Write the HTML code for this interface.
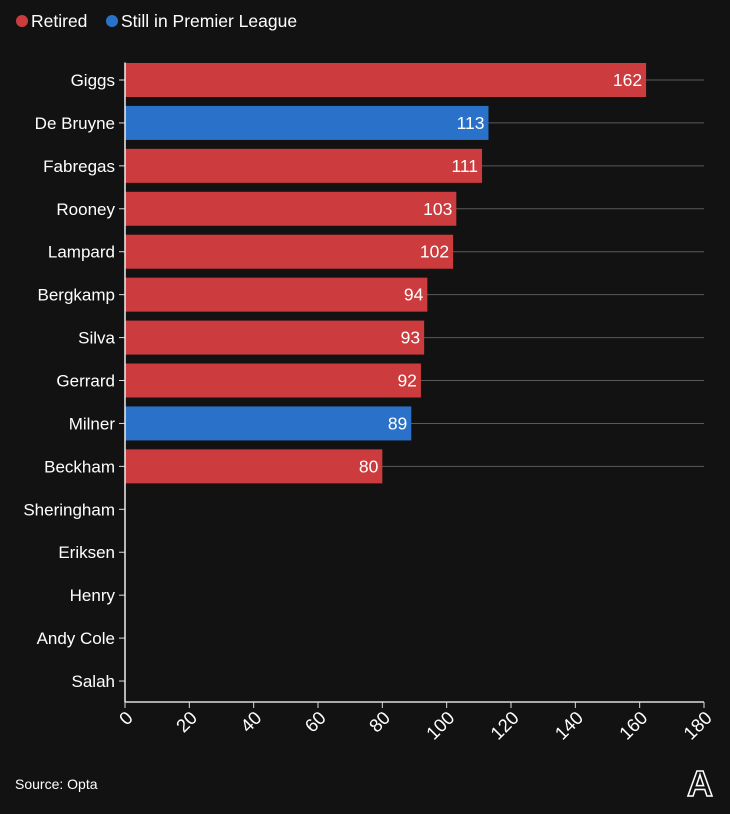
<!DOCTYPE html>
<html><head><meta charset="utf-8">
<style>
html,body{margin:0;padding:0;background:#121212;}
body{width:730px;height:809px;overflow:hidden;font-family:"Liberation Sans",sans-serif;}
svg text{font-family:"Liberation Sans",sans-serif;}
</style></head>
<body>
<svg id="chart" width="730" height="809" viewBox="0 0 730 809" xmlns="http://www.w3.org/2000/svg">
  <g>
    <circle cx="22" cy="21" r="6" fill="#cc3b3d"/>
    <text x="31" y="27" fill="#fff" font-size="17.5">Retired</text>
    <circle cx="112" cy="21" r="6" fill="#2a72c9"/>
    <text x="121" y="27" fill="#fff" font-size="17.5">Still in Premier League</text>
  </g>
  <g id="grid"></g>
  <g id="bars"></g>
  <g id="yaxis"></g>
  <g id="xaxis"></g>
  <text x="15" y="789" fill="#fff" font-size="14">Source: Opta</text>
  <text x="700" y="796" fill="#121212" stroke="#fff" stroke-width="1.5" font-size="36" font-family="Liberation Serif" text-anchor="middle" font-weight="bold">A</text>
</svg>
<script>
const players = ["Giggs","De Bruyne","Fabregas","Rooney","Lampard","Bergkamp","Silva","Gerrard","Milner","Beckham","Sheringham","Eriksen","Henry","Andy Cole","Salah"];
const values = [162,113,111,103,102,94,93,92,89,80,null,null,null,null,null];
const status = ["retired","active","retired","retired","retired","retired","retired","retired","active","retired","retired","active","retired","retired","active"];
const xTicks = [0,20,40,60,80,100,120,140,160,180];

const NS="http://www.w3.org/2000/svg";
const x0=125,x1=704,xMax=180,yTop=80,step=42.93,barH=34,axisY=702;
const xs=v=>x0+(v/xMax)*(x1-x0);
const ys=i=>yTop+i*step;
const colors={retired:"#cc3b3d",active:"#2a72c9"};
function mk(tag,attrs,parent){const e=document.createElementNS(NS,tag);for(const k in attrs)e.setAttribute(k,attrs[k]);parent.appendChild(e);return e;}
const grid=document.getElementById('grid'),bars=document.getElementById('bars'),ya=document.getElementById('yaxis'),xa=document.getElementById('xaxis');
players.forEach((p,i)=>{
  const y=ys(i);
  const v=values[i];
  if(v!=null){
    const g=mk('line',{x1:x0,x2:x1,y1:y,y2:y,stroke:"#5a5a5a","stroke-width":1},grid);
    
    
    const r=mk('rect',{x:x0,y:y-barH/2,width:xs(v)-x0,height:barH,fill:colors[status[i]]},bars);
    
    
    const t=mk('text',{x:xs(v)-4,y:y+6,fill:"#fff","font-size":17.5,"text-anchor":"end"},bars);
    
    
    t.textContent=v;
  }
  const tk=mk('line',{x1:x0-6,x2:x0,y1:y,y2:y,stroke:"#ddd","stroke-width":1},ya);
  
  
  const lt=mk('text',{x:x0-10,y:y+6,fill:"#fff","font-size":17,"text-anchor":"end"},ya);
  
  
  lt.textContent=p;
});
const yl=mk('line',{x1:x0,x2:x0,y1:yTop-step/2+4,y2:axisY,stroke:"#eee","stroke-width":1.5},ya);


const xl=mk('line',{x1:x0,x2:x1,y1:axisY,y2:axisY,stroke:"#ddd","stroke-width":1.5},xa);


xTicks.forEach(v=>{
  const x=xs(v);
  const tk=mk('line',{x1:x,x2:x,y1:axisY,y2:axisY+6,stroke:"#ddd","stroke-width":1},xa);
  
  
  const t=mk('text',{x:0,y:0,fill:"#fff","font-size":18.5,"text-anchor":"end",transform:`translate(${x+9},${axisY+17}) rotate(-45)`},xa);
  
  
  t.textContent=v;
});
</script>
</body></html>
